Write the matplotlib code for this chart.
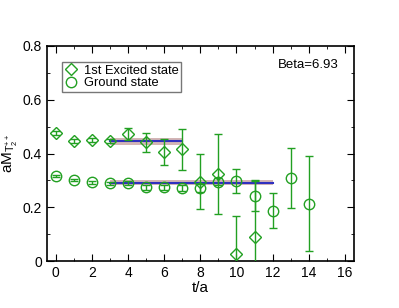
import numpy as np
import matplotlib
matplotlib.use("Agg")
import matplotlib.pyplot as plt

plt.rcParams['font.family'] = ['Liberation Sans', 'DejaVu Sans']
plt.rcParams['mathtext.fontset'] = 'custom'
plt.rcParams['mathtext.rm'] = 'Liberation Sans'
plt.rcParams['mathtext.it'] = 'Liberation Sans'

# excited state (diamonds)
t_exc = [0, 1, 2, 3, 4, 5, 6, 7, 8, 9, 10, 11]
m_exc = [0.476, 0.447, 0.450, 0.446, 0.472, 0.442, 0.405, 0.416, 0.296, 0.325, 0.027, 0.089]
e_exc = [0.006, 0.006, 0.006, 0.008, 0.022, 0.035, 0.048, 0.076, 0.102, 0.148, 0.140, 0.210]

# ground state (circles)
t_gnd = [0, 1, 2, 3, 4, 5, 6, 7, 8, 9, 10, 11, 12, 13, 14]
m_gnd = [0.316, 0.302, 0.293, 0.290, 0.290, 0.274, 0.274, 0.271, 0.271, 0.296, 0.298, 0.244, 0.188, 0.310, 0.213]
e_gnd = [0.005, 0.005, 0.005, 0.006, 0.007, 0.008, 0.010, 0.012, 0.015, 0.012, 0.045, 0.056, 0.064, 0.111, 0.177]

# plateau fits: (t_start, t_end, value, error)
fit_exc = (3, 7, 0.446, 0.013)
fit_gnd = (3, 12, 0.292, 0.009)

green = '#22a022'

fig = plt.figure(figsize=(3.99, 3.08), dpi=100)
ax = fig.add_axes([0.117, 0.152, 0.770, 0.699])

for t0, t1, v, e in [fit_exc, fit_gnd]:
    ax.fill_between([t0, t1], v - e, v + e, color='#b07878', alpha=0.55, lw=0, zorder=1)
    ax.plot([t0, t1], [v, v], color='#3030c0', lw=1.5, zorder=2)

ax.errorbar(t_exc, m_exc, yerr=e_exc, fmt='D', mfc='none', mec=green, ecolor=green,
            ms=6.3, mew=1.0, elinewidth=1.0, capsize=3.2, capthick=1.0,
            label='1st Excited state', zorder=3)
ax.errorbar(t_gnd, m_gnd, yerr=e_gnd, fmt='o', mfc='none', mec=green, ecolor=green,
            ms=7.5, mew=1.0, elinewidth=1.0, capsize=3.2, capthick=1.0,
            label='Ground state', zorder=3)

ax.set_xlim(-0.5, 16.5)
ax.set_ylim(0, 0.8)
ax.set_xticks(np.arange(0, 17, 2))
ax.set_xticks(np.arange(0, 17, 1), minor=True)
ax.set_yticks([0, 0.2, 0.4, 0.6, 0.8])
ax.set_yticklabels(['0', '0.2', '0.4', '0.6', '0.8'])
ax.set_yticks(np.arange(0, 0.81, 0.1), minor=True)
ax.tick_params(which='both', direction='in', top=True, right=True, labelsize=10)
ax.tick_params(which='major', length=5)
ax.tick_params(which='minor', length=2.5)
for s in ax.spines.values():
    s.set_linewidth(1.2)

ax.set_xlabel('t/a', fontsize=11, labelpad=1)
ax.set_ylabel(r'aM$_{\mathrm{T}_2^{++}}$', fontsize=11, labelpad=2)

ax.text(15.65, 0.73, 'Beta=6.93', fontsize=9.5, ha='right', va='center')

handles, labels = ax.get_legend_handles_labels()
handles = [h[0] for h in handles]
leg = ax.legend(handles, labels, loc='upper left', bbox_to_anchor=(0.05, 0.925),
                fontsize=9.3, frameon=True, fancybox=False, borderpad=0.2,
                handletextpad=0.5, labelspacing=0.05, handlelength=1.0,
                borderaxespad=0)
leg.get_frame().set_edgecolor('#555555')
leg.get_frame().set_linewidth(1.0)

fig.savefig('out.png', dpi=100)
